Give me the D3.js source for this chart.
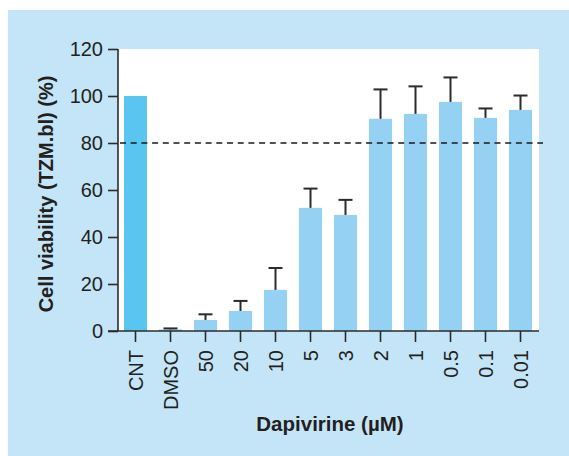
<!DOCTYPE html>
<html>
<head>
<meta charset="utf-8">
<script src="https://cdn.jsdelivr.net/npm/d3@7"></script>
<style>
  html, body { margin: 0; padding: 0; background: #ffffff; }
  svg { display: block; }
  text { font-family: "Liberation Sans", Arial, Helvetica, sans-serif; fill: #231f20; }
</style>
</head>
<body>
<svg id="chart" width="569" height="456"></svg>
<script>
// Treatment groups along the x axis
const categories = ["CNT", "DMSO", "50", "20", "10", "5", "3", "2", "1", "0.5", "0.1", "0.01"];
// Mean cell viability (%) per group
const viability = [100, 0.7, 4.7, 8.5, 17.5, 52.4, 49.4, 90.3, 92.4, 97.5, 90.7, 94.1];
// Upper error (SD, %) per group; CNT has none
const errors = [0, 0.4, 2.4, 4.3, 9.3, 8.2, 6.4, 12.5, 11.7, 10.4, 4.0, 6.1];
// Y axis ticks and the viability threshold
const yTicks = [0, 20, 40, 60, 80, 100, 120];
const threshold = 80;

const svg = d3.select("#chart");

// background panel
svg.append("rect")
  .attr("x", 8).attr("y", 10)
  .attr("width", 561).attr("height", 446)
  .attr("fill", "#c3e5f7");

const plot = { left: 118, right: 539, top: 49, bottom: 331 };

svg.append("rect")
  .attr("x", plot.left).attr("y", plot.top)
  .attr("width", plot.right - plot.left).attr("height", plot.bottom - plot.top)
  .attr("fill", "#ffffff");

const x = d3.scaleBand()
  .domain(categories)
  .range([plot.left, plot.right - 1])
  .paddingInner(0.34)
  .paddingOuter(0.17);

const y = d3.scaleLinear()
  .domain([0, 120])
  .range([plot.bottom, plot.top]);

const rows = categories.map((c, i) => ({ cat: c, v: viability[i], e: errors[i] }));

// bars
svg.append("g").selectAll("rect")
  .data(rows)
  .join("rect")
  .attr("x", d => x(d.cat))
  .attr("y", d => y(d.v))
  .attr("width", x.bandwidth())
  .attr("height", d => y(0) - y(d.v))
  .attr("fill", d => d.cat === "CNT" ? "#5bc5f2" : "#94d1f3");

// upper error bars
const eb = svg.append("g")
  .attr("stroke", "#2b2b2b")
  .attr("stroke-width", 2);
rows.filter(d => d.e > 0).forEach(d => {
  const cx = x(d.cat) + x.bandwidth() / 2;
  eb.append("line")
    .attr("x1", cx).attr("x2", cx)
    .attr("y1", y(d.v)).attr("y2", y(d.v + d.e));
  eb.append("line")
    .attr("x1", cx - 7).attr("x2", cx + 7)
    .attr("y1", y(d.v + d.e)).attr("y2", y(d.v + d.e));
});

// threshold line
svg.append("line")
  .attr("x1", plot.left + 2).attr("x2", 543)
  .attr("y1", y(threshold)).attr("y2", y(threshold))
  .attr("stroke", "#1a1a1a")
  .attr("stroke-width", 1.5)
  .attr("stroke-dasharray", "6,4.7");

// y axis
const yAxis = svg.append("g")
  .attr("transform", `translate(${plot.left},0)`)
  .call(d3.axisLeft(y).tickValues(yTicks).tickSize(10).tickPadding(5));
yAxis.select(".domain").attr("stroke", "#2b2b2b").attr("stroke-width", 1.6)
  .attr("d", `M0,${plot.top}V${plot.bottom}`);
yAxis.selectAll(".tick line").attr("stroke", "#2b2b2b").attr("stroke-width", 1.6);
yAxis.selectAll(".tick text")
  .style("font-size", "20px")
  .attr("fill", "#231f20");

// x axis
const xAxis = svg.append("g")
  .attr("transform", `translate(0,${plot.bottom})`)
  .call(d3.axisBottom(x).tickSize(11).tickSizeOuter(0));
xAxis.select(".domain").attr("stroke", "#2b2b2b").attr("stroke-width", 1.6)
  .attr("d", `M${plot.left - 10},0H${plot.right}`);
xAxis.selectAll(".tick line").attr("stroke", "#2b2b2b").attr("stroke-width", 1.6);
xAxis.selectAll(".tick text")
  .style("font-size", "20px")
  .attr("fill", "#231f20")
  .attr("text-anchor", "end")
  .attr("transform", "rotate(-90)")
  .attr("x", -19)
  .attr("y", 0)
  .attr("dy", "0.35em");

// axis titles
svg.append("text")
  .attr("x", 330).attr("y", 431)
  .attr("text-anchor", "middle")
  .style("font-size", "20.5px")
  .style("font-weight", "bold")
  .text("Dapivirine (µM)");

svg.append("text")
  .attr("transform", "translate(53,194) rotate(-90)")
  .attr("text-anchor", "middle")
  .style("font-size", "20px")
  .style("font-weight", "bold")
  .text("Cell viability (TZM.bl) (%)");
</script>
</body>
</html>
